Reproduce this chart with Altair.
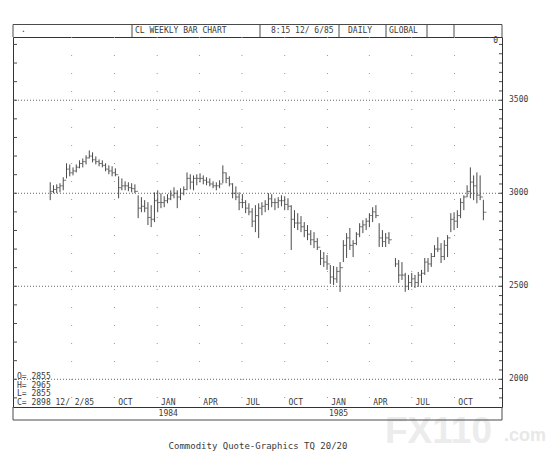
import altair as alt
import pandas as pd

# ---------------- data ----------------
highs = [3059,3043,3048,3054,3086,3161,3155,3139,3155,3177,
         3187,3204,3230,3220,3198,3182,3177,3161,3150,3145,
         3134,3091,3080,3064,3059,3054,3048,2989,2979,2963,
         2952,2936,3005,3016,3000,2984,2995,3016,3032,3016,
         3027,3037,3112,3102,3096,3102,3107,3096,3086,3080,
         3064,3059,3070,3150,3112,3091,3054,3037,3005,2995,
         2963,2946,2920,2936,2946,2952,2963,3000,2995,2973,
         2979,2989,2984,2973,2936,2909,2893,2877,2845,2829,
         2802,2791,2759,2695,2684,2668,2614,2609,2604,2630,
         2748,2786,2813,2748,2791,2839,2855,2866,2893,2925,
         2936,2839,2802,2786,2791,None,2652,2641,2630,2572,
         2561,2572,2561,2577,2588,2652,2652,2679,2721,2764,
         2732,2748,2775,2893,2898,2909,2973,2989,3043,3139,
         3096,3112,3096,2965]
lows = [2963,3000,3000,3005,3016,3080,3091,3096,3112,3134,
        3139,3155,3187,3166,3155,3145,3139,3118,3102,3091,
        3091,2973,3016,3016,3011,3005,3000,2866,2898,2898,
        2829,2818,2845,2898,2920,2925,2946,2963,2973,2920,
        2963,2989,3016,3021,3016,3043,3059,3048,3043,3037,
        3027,3016,3027,3054,3054,3037,2973,2963,2909,2920,
        2893,2882,2818,2791,2759,2882,2898,2909,2925,2909,
        2920,2930,2909,2909,2695,2813,2802,2791,2764,2748,
        2721,2705,2695,2614,2604,2588,2513,2507,2518,2470,
        2630,2652,2695,2657,2721,2764,2786,2802,2818,2845,
        2866,2711,2711,2711,2727,None,2604,2518,2534,2470,
        2480,2497,2491,2497,2518,2561,2577,2604,2657,2684,
        2625,2641,2657,2791,2802,2813,2866,2909,2979,2973,
        2963,2946,2963,2855]
closes = [3010,3020,3030,3040,3070,3130,3110,3120,3140,3160,
          3170,3190,3200,3180,3170,3160,3150,3130,3120,3110,
          3100,3030,3040,3040,3030,3025,3010,2920,2930,2920,
          2870,2860,2960,2950,2950,2960,2970,2990,3000,2980,
          3000,3020,3080,3060,3080,3080,3080,3070,3060,3050,
          3040,3040,3050,3110,3080,3050,3000,2980,2950,2950,
          2920,2900,2850,2880,2920,2930,2940,2970,2950,2950,
          2960,2960,2940,2930,2860,2840,2840,2820,2800,2780,
          2750,2740,2710,2650,2630,2620,2550,2540,2580,2600,
          2720,2760,2720,2730,2780,2820,2830,2850,2880,2900,
          2880,2760,2740,2760,2750,None,2620,2560,2560,2500,
          2520,2540,2520,2560,2570,2630,2620,2660,2700,2700,
          2660,2720,2760,2860,2850,2880,2950,2980,3010,3060,
          3040,2990,2980,2898]
week_dates = pd.date_range("1983-05-16", periods=len(highs), freq="7D")

month_labels = ["OCT", "JAN", "APR", "JUL", "OCT", "JAN", "APR", "JUL", "OCT"]
month_dates = ["1983-10-01", "1984-01-01", "1984-04-01", "1984-07-01", "1984-10-01",
               "1985-01-01", "1985-04-01", "1985-07-01", "1985-10-01"]
year_labels = ["1984", "1985"]
year_dates = ["1984-01-01", "1985-01-01"]
quarter_dates = ["1983-07-01"] + month_dates
price_labels = [2000, 2500, 3000, 3500]
left_ticks = list(range(1900, 3900, 100))
right_ticks = list(range(1900, 3850, 50))

header_texts = ["CL WEEKLY BAR CHART", "8:15 12/ 6/85", "DAILY", "GLOBAL"]
ohlc_texts = ["O= 2855", "H= 2965", "L= 2855", "C= 2898 12/ 2/85"]
footer_text = "Commodity Quote-Graphics  TQ 20/20"

# ---------------- frames ----------------
df = pd.DataFrame({"date": week_dates, "high": highs, "low": lows, "close": closes}).dropna()
mdf = pd.DataFrame({"d": pd.to_datetime(month_dates), "t": month_labels})
ydf = pd.DataFrame({"d": pd.to_datetime(year_dates), "t": year_labels})
qdf = pd.DataFrame({"d": pd.to_datetime(quarter_dates)})
pdf = pd.DataFrame({"v": price_labels})
ltdf = pd.DataFrame({"v": left_ticks})
rtdf = pd.DataFrame({"v": right_ticks})

W, H = 489, 370
INK = "#3a3a3a"
LINE = "#4a4a4a"
MONO = "DejaVu Sans Mono"
ONE = alt.Data(values=[{"a": 1}])

xscale = alt.Scale(domain=[alt.DateTime(year=1983, month=2, date=25),
                           alt.DateTime(year=1986, month=1, date=11)])
yscale = alt.Scale(domain=[1851, 3840], nice=False, zero=False)


def txt(s, xv, yv, size=8, align="left", color=INK, font=MONO, weight="normal"):
    return alt.Chart(ONE).mark_text(align=align, baseline="middle", fontSize=size,
                                    font=font, color=color, fontWeight=weight).encode(
        x=alt.value(xv), y=alt.value(yv), text=alt.value(s))


def hline(x1, x2, yv):
    return alt.Chart(ONE).mark_rule(color=LINE, strokeWidth=1).encode(
        x=alt.value(x1), x2=alt.value(x2), y=alt.value(yv))


def vline(xv, y1, y2):
    return alt.Chart(ONE).mark_rule(color=LINE, strokeWidth=1).encode(
        x=alt.value(xv), y=alt.value(y1), y2=alt.value(y2))


watermark = alt.layer(
    txt("FX110", 372, 395, size=37, color="#ececec", font="Liberation Sans", weight="bold"),
    txt(".com", 491, 399, size=18, color="#e8e8e8", font="Liberation Sans", weight="bold"),
)

vgrid = alt.Chart(qdf).mark_rule(color="#9a9a9a", strokeDash=[1, 17], strokeWidth=1).encode(
    x=alt.X("d:T", scale=xscale, axis=None))

hgrid = alt.Chart(pdf).mark_rule(color="#666", strokeDash=[1, 2], strokeWidth=1).encode(
    y=alt.Y("v:Q", scale=yscale, axis=None))

ylabels = alt.Chart(pdf).mark_text(font=MONO, fontSize=8, color=INK, align="left",
                                   baseline="middle").encode(
    x=alt.value(W + 7), y=alt.Y("v:Q", scale=yscale, axis=None), text="v:Q")

bars = alt.Chart(df).mark_rule(color=LINE, strokeWidth=1).encode(
    x=alt.X("date:T", scale=xscale, axis=None),
    y=alt.Y("low:Q", scale=yscale, axis=None),
    y2="high:Q")

close_ticks = alt.Chart(df).mark_tick(orient="horizontal", size=3, thickness=1,
                                      xOffset=1.5, color=LINE).encode(
    x=alt.X("date:T", scale=xscale, axis=None),
    y=alt.Y("close:Q", scale=yscale, axis=None))

lticks = alt.Chart(ltdf).mark_rule(color=LINE).encode(
    x=alt.value(0), x2=alt.value(4), y=alt.Y("v:Q", scale=yscale, axis=None))
rticks = alt.Chart(rtdf).mark_rule(color=LINE).encode(
    x=alt.value(W - 3), x2=alt.value(W), y=alt.Y("v:Q", scale=yscale, axis=None))

months = alt.Chart(mdf).mark_text(font=MONO, fontSize=8, color=INK, align="center",
                                  baseline="middle", dx=11).encode(
    x=alt.X("d:T", scale=xscale, axis=None), y=alt.value(366), text="t:N")
years = alt.Chart(ydf).mark_text(font=MONO, fontSize=8, color=INK, align="center",
                                 baseline="middle", dx=11).encode(
    x=alt.X("d:T", scale=xscale, axis=None), y=alt.value(376.5), text="t:N")

# header box
header = alt.layer(
    hline(0, W, -12.5),
    vline(0, -12.5, 0), vline(W, -12.5, 0),
    vline(119, -12.5, 0), vline(247, -12.5, 0), vline(326, -12.5, 0),
    vline(373, -12.5, 0), vline(414, -12.5, 0), vline(441, -12.5, 0),
    txt(".", 8, -7),
    txt(header_texts[0], 122, -6),
    txt(header_texts[1], 258, -6),
    txt(header_texts[2], 335, -6),
    txt(header_texts[3], 376, -6),
    txt("0", W - 4, 4, align="right"),
)

bottom = alt.layer(
    vline(0, H, H + 13), vline(W, H, H + 13), hline(0, W, H + 13),
    txt(ohlc_texts[0], 4, 340),
    txt(ohlc_texts[1], 4, 348.5),
    txt(ohlc_texts[2], 4, 357),
    txt(ohlc_texts[3], 4, 366),
    txt(footer_text, 245, 409, size=9, align="center"),
)

chart = alt.layer(
    watermark, vgrid, hgrid, bars, close_ticks, lticks, rticks, ylabels,
    months, years, header, bottom
).properties(
    width=W, height=H,
    padding={"left": 5, "top": 29, "right": 47, "bottom": 54},
    autosize=alt.AutoSizeParams(type="none"),
    background="white",
).configure_view(stroke="#333", strokeWidth=1)

chart.save("out.html", embed_options={"renderer": "svg", "actions": False})
